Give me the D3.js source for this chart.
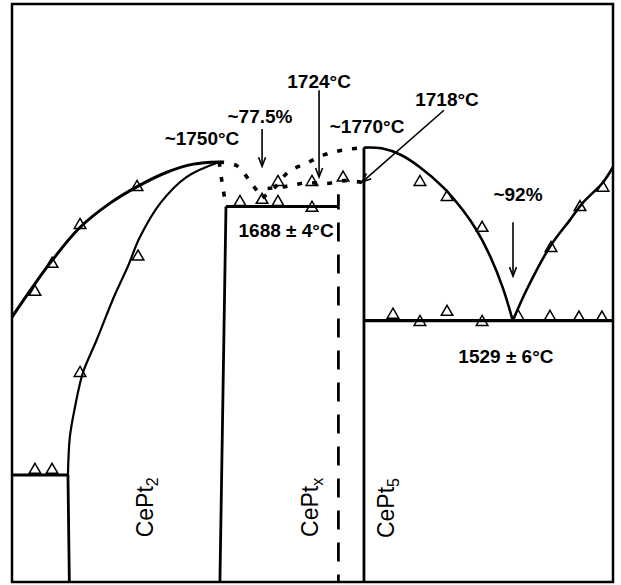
<!DOCTYPE html>
<html>
<head>
<meta charset="utf-8">
<script src="https://cdn.jsdelivr.net/npm/d3@7"></script>
<style>
  html, body { margin: 0; padding: 0; background: #fff; }
  svg { display: block; }
</style>
</head>
<body>
<svg id="chart" width="621" height="585"></svg>
<script>
// ---- Data (composition in at.% Pt, temperature in °C) ----
const compDomain = [63.0, 97.8];
const tempDomain = [1165, 1970];

// Liquidus, Ce-rich side of CePt2 maximum
const liquidusLeft = [[63.0,1534],[64.2,1576],[65.2,1609],[66.9,1658],[68.7,1693],[70.2,1715],[72.0,1736],[73.5,1747],[75.0,1750]];
// CePt2 solidus (homogeneity boundary)
const solidusCePt2 = [[75.0,1750],[73.1,1729],[71.6,1693],[70.4,1645],[69.7,1604],[68.9,1562],[67.9,1502],[67.1,1456],[66.65,1409],[66.35,1367],[66.24,1314]];
// Liquidus from CePt5 down to eutectic at ~92%
const liquidusCePt5 = [[83.38,1770],[84.4,1769],[85.5,1760],[86.6,1743],[88.0,1714],[89.1,1683],[89.9,1655],[90.7,1618],[91.4,1576],[92.0,1529]];
// Liquidus, Pt-rich side
const liquidusPt = [[92.0,1529],[92.8,1572],[94.15,1632],[95.3,1669],[96.05,1693],[97.2,1721],[97.8,1743]];

// Uncertain (dotted) boundaries
const dottedA = [[75.0,1750],[75.16,1722],[75.33,1697],[75.39,1688]];
const dottedB = [[75.0,1750],[76.0,1745],[76.9,1719],[77.5,1700]];
const dottedC = [[77.5,1700],[78.2,1714],[79.0,1736],[80.1,1749],[81.2,1761],[82.3,1767],[83.38,1770]];
const dottedD = [[77.8,1713],[78.9,1716],[80.0,1721],[81.2,1720],[82.3,1724],[83.38,1721]];

// Isotherms: [from, to, T]
const isotherms = [[63.0,66.24,1314],[75.39,81.9,1688],[83.38,97.8,1529]];

// Vertical phase boundaries (solid)
const boundaries = [
  [[66.24,1314],[66.32,1165]],
  [[75.39,1688],[75.04,1165]],
  [[83.38,1770],[83.38,1165]],
  [[81.9,1705],[81.9,1688]]
];
// CePtx Pt-rich boundary (dashed)
const dashedBoundary = [[81.9,1688],[81.9,1165]];

// DTA measurement points (open triangles)
const triComp = [64.33,65.32,66.94,70.24, 70.30,66.94, 64.33,65.32,
                 76.2,77.48,78.4,80.37, 78.4,80.37,82.17,
                 86.62,88.19,90.22,94.21,95.89,97.22,
                 85.06,86.62,88.19,90.22,92.3,94.15,95.83,97.16];
const triTemp = [1569,1608,1662,1715, 1618,1456, 1321,1321,
                 1694,1697,1694,1686, 1722,1722,1728,
                 1722,1701,1658,1630,1687,1714,
                 1537,1527,1541,1527,1535,1534,1533,1533];

// Arrows: [c1,T1,c2,T2]
const arrows = [[77.48,1796,77.48,1744],[80.78,1850,80.78,1729],[88.01,1822,83.27,1722],[92.01,1666,92.01,1591]];

// Annotations
const labelText = ["~1750°C","~77.5%","1724°C","~1770°C","1718°C","~92%","1688 ± 4°C","1529 ± 6°C"];
const labelComp = [74.0,77.36,80.78,83.56,88.19,92.3,78.87,91.6];
const labelTemp = [1774,1804,1853,1790,1828,1696,1645,1470];

// Phase names (rotated)
const phaseMain = ["CePt","CePt","CePt"];
const phaseSub  = ["2","x","5"];
const phaseComp = [71.16,80.72,85.12];
const phaseTemp = [1269,1269,1268];

// ---- Drawing ----
const svg = d3.select("#chart");
const x = d3.scaleLinear().domain(compDomain).range([12, 613]);
const y = d3.scaleLinear().domain(tempDomain).range([582, 4]);

const line = d3.line().x(d => x(d[0])).y(d => y(d[1])).curve(d3.curveCatmullRom.alpha(0.5));
const straight = d3.line().x(d => x(d[0])).y(d => y(d[1]));

svg.append("defs").append("marker")
  .attr("id","arrowhead").attr("viewBox","-10 -5 12 10")
  .attr("refX",0).attr("refY",0)
  .attr("markerWidth",12).attr("markerHeight",10)
  .attr("markerUnits","userSpaceOnUse")
  .attr("orient","auto")
  .append("path").attr("d","M-9,-3.5 L0,0 L-9,3.5")
  .attr("fill","none").attr("stroke","#000").attr("stroke-width",1.6);

// frame
svg.append("rect")
  .attr("x", x.range()[0]).attr("y", y.range()[1])
  .attr("width", x.range()[1]-x.range()[0]).attr("height", y.range()[0]-y.range()[1])
  .attr("fill","none").attr("stroke","#000").attr("stroke-width",2.5);

const g = svg.append("g");

// curves
g.append("path").attr("d", line(liquidusLeft)).attr("fill","none").attr("stroke","#000").attr("stroke-width",3);
g.append("path").attr("d", line(solidusCePt2)).attr("fill","none").attr("stroke","#000").attr("stroke-width",2.2);
g.append("path").attr("d", line(liquidusCePt5)).attr("fill","none").attr("stroke","#000").attr("stroke-width",2.6);
g.append("path").attr("d", line(liquidusPt)).attr("fill","none").attr("stroke","#000").attr("stroke-width",2.6);

// dotted
[dottedA, dottedB, dottedC, dottedD].forEach(d => {
  g.append("path").attr("d", line(d)).attr("fill","none").attr("stroke","#000")
    .attr("stroke-width",3.6).attr("stroke-dasharray","5,10");
});

// isotherms
g.selectAll(".iso").data(isotherms).enter().append("line")
  .attr("x1", d => x(d[0])).attr("x2", d => x(d[1]))
  .attr("y1", d => y(d[2])).attr("y2", d => y(d[2]))
  .attr("stroke","#000").attr("stroke-width",3.2);

// boundaries
boundaries.forEach(b => {
  g.append("path").attr("d", straight(b)).attr("fill","none").attr("stroke","#000").attr("stroke-width",2.8);
});
g.append("path").attr("d", straight(dashedBoundary)).attr("fill","none").attr("stroke","#000")
  .attr("stroke-width",2.8).attr("stroke-dasharray","19,13").attr("stroke-dashoffset",-16);

// triangles
const tri = d3.symbol().type(d3.symbolTriangle).size(58);
g.selectAll(".tri").data(triComp.map((c,i)=>[c,triTemp[i]])).enter().append("path")
  .attr("d", tri)
  .attr("transform", d => `translate(${x(d[0])},${y(d[1])})`)
  .attr("fill","none").attr("stroke","#000").attr("stroke-width",1.5);

// arrows
g.selectAll(".arrow").data(arrows).enter().append("line")
  .attr("x1", d => x(d[0])).attr("y1", d => y(d[1]))
  .attr("x2", d => x(d[2])).attr("y2", d => y(d[3]))
  .attr("stroke","#000").attr("stroke-width",1.6)
  .attr("marker-end","url(#arrowhead)");

// labels
g.selectAll(".lbl").data(labelText).enter().append("text")
  .attr("x", (d,i) => x(labelComp[i])).attr("y", (d,i) => y(labelTemp[i]))
  .attr("text-anchor","middle")
  .style("font-family","'Liberation Sans', Arial, sans-serif")
  .style("font-weight","bold").style("font-size","19px")
  .text(d => d);

// phase labels
phaseMain.forEach((m,i) => {
  const t = g.append("text")
    .attr("transform", `translate(${x(phaseComp[i])},${y(phaseTemp[i])}) rotate(-90)`)
    .attr("text-anchor","middle")
    .style("font-family","'Liberation Sans', Arial, sans-serif")
    .style("font-size","23px");
  t.append("tspan").text(m);
  t.append("tspan").attr("dy","0.3em").style("font-size","16px").text(phaseSub[i]);
});
</script>
</body>
</html>
